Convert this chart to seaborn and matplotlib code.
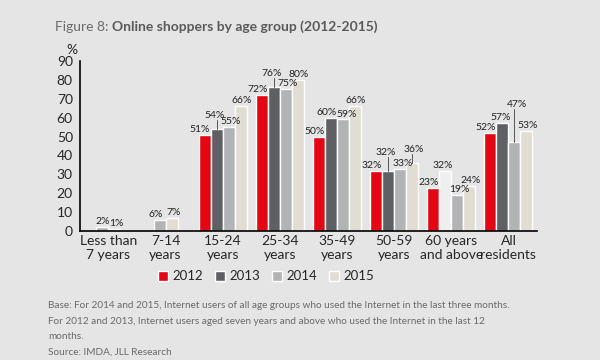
import matplotlib
matplotlib.use("Agg")
import matplotlib.pyplot as plt
from matplotlib.patches import Patch
import seaborn as sns
import pandas as pd
import numpy as np

groups = ["Less than\n7 years", "7-14\nyears", "15-24\nyears", "25-34\nyears",
          "35-49\nyears", "50-59\nyears", "60 years\nand above", "All\nresidents"]
years = ["2012", "2013", "2014", "2015"]
v2012 = [np.nan, np.nan, 51, 72, 50, 32, 23, 52]
v2013 = [np.nan, np.nan, 54, 76, 60, 32, 32, 57]
v2014 = [2, 6, 55, 75, 59, 33, 19, 47]
v2015 = [1, 7, 66, 80, 66, 36, 24, 53]

colors = ["#e30613", "#5f6064", "#b2b3b5", "#e2ddd2"]

rows = []
for yr, vals in zip(years, [v2012, v2013, v2014, v2015]):
    for g, v in zip(groups, vals):
        rows.append({"group": g, "year": yr, "value": v})
df = pd.DataFrame(rows)

sns.set_style("white")
plt.rcParams["font.family"] = ["Lato", "DejaVu Sans"]

bg = "#e5e5e5"
fig = plt.figure(figsize=(6, 3.6), dpi=100, facecolor=bg)
ax = fig.add_axes([0.133, 0.358, 0.762, 0.473])
ax.set_facecolor(bg)

sns.barplot(data=df, x="group", y="value", hue="year", palette=colors,
            order=groups, hue_order=years, width=0.84, saturation=1,
            legend=False, ax=ax)

# extra lift (data units) for labels that sit on a leader line
lift = {(1, 2): 4, (1, 3): 4.5, (1, 5): 6.5, (2, 7): 17, (3, 5): 4}
# small horizontal nudges of labels, in fractions of a group
nudge_year = [-0.08, -0.04, 0.04, 0.02]
nudge_one = {(2, 0): 0.0, (3, 0): 0.04, (2, 1): -0.07, (3, 1): 0.03,
             (1, 4): -0.08, (2, 4): 0.07}
for yi, cont in enumerate(ax.containers):
    for bar in cont.patches:
        h = bar.get_height()
        if np.isnan(h) or h == 0:
            continue
        gi = int(round(bar.get_x() + bar.get_width() / 2))
        if gi < 2:
            # the original pushes the only two bars of these groups one slot left
            bar.set_x(bar.get_x() - bar.get_width())
        if (yi, gi) == (1, 6):
            # the 2013 bar for 60+ is drawn almost white in the original
            bar.set_facecolor("#efefef")
        x = bar.get_x() + bar.get_width() / 2
        extra = lift.get((yi, gi), 0)
        dx = nudge_one.get((yi, gi), nudge_year[yi])
        ax.text(x + dx, h + 0.5 + extra, f"{int(h)}%", ha="center", va="bottom",
                fontsize=7.5, color="#222222")
        if extra > 0:
            ax.plot([x, x], [h, h + extra + 0.5], color="#555555", lw=0.7)

ax.set_xlim(-0.5, 7.5)
ax.set_ylim(0, 90)
ax.set_yticks(range(0, 91, 10))
ax.set_xticks(np.arange(-0.5, 8, 1), minor=True)
ax.tick_params(axis="x", which="major", length=0, labelsize=10, pad=3)
ax.tick_params(axis="x", which="minor", length=5, width=1, color="black")
ax.tick_params(axis="y", length=3, width=1, labelsize=10, pad=2, color="black")
ax.set_xlabel("")
ax.set_ylabel("")
for s in ["top", "right"]:
    ax.spines[s].set_visible(False)
for s in ["left", "bottom"]:
    ax.spines[s].set_color("black")
    ax.spines[s].set_linewidth(1.2)
ax.text(-0.018, 1.03, "%", transform=ax.transAxes, ha="center", va="bottom",
        fontsize=10)

handles = [Patch(facecolor=c, label=y) for c, y in zip(colors, years)]
fig.legend(handles=handles, loc="center", bbox_to_anchor=(0.443, 0.232), ncol=4,
           frameon=False, fontsize=9.5, handlelength=0.8, handleheight=0.8,
           handletextpad=0.3, columnspacing=0.9)

t1 = fig.text(0.092, 0.925, "Figure 8: ", fontsize=10, color="#6a6a6a", va="center")
fig.canvas.draw()
bb = t1.get_window_extent()
fig.text(bb.x1 / fig.bbox.width, 0.925, "Online shoppers by age group (2012-2015)",
         fontsize=10, color="#5a5a5a", fontweight="bold", va="center")

notes = ["Base: For 2014 and 2015, Internet users of all age groups who used the Internet in the last three months.",
         "For 2012 and 2013, Internet users aged seven years and above who used the Internet in the last 12",
         "months.",
         "Source: IMDA, JLL Research"]
for i, t in enumerate(notes):
    fig.text(0.08, 1 - (306 + i * 15.3) / 360, t, fontsize=7.2, color="#6a6a6a",
             va="center")

fig.savefig("out.png", dpi=100, facecolor=bg)
